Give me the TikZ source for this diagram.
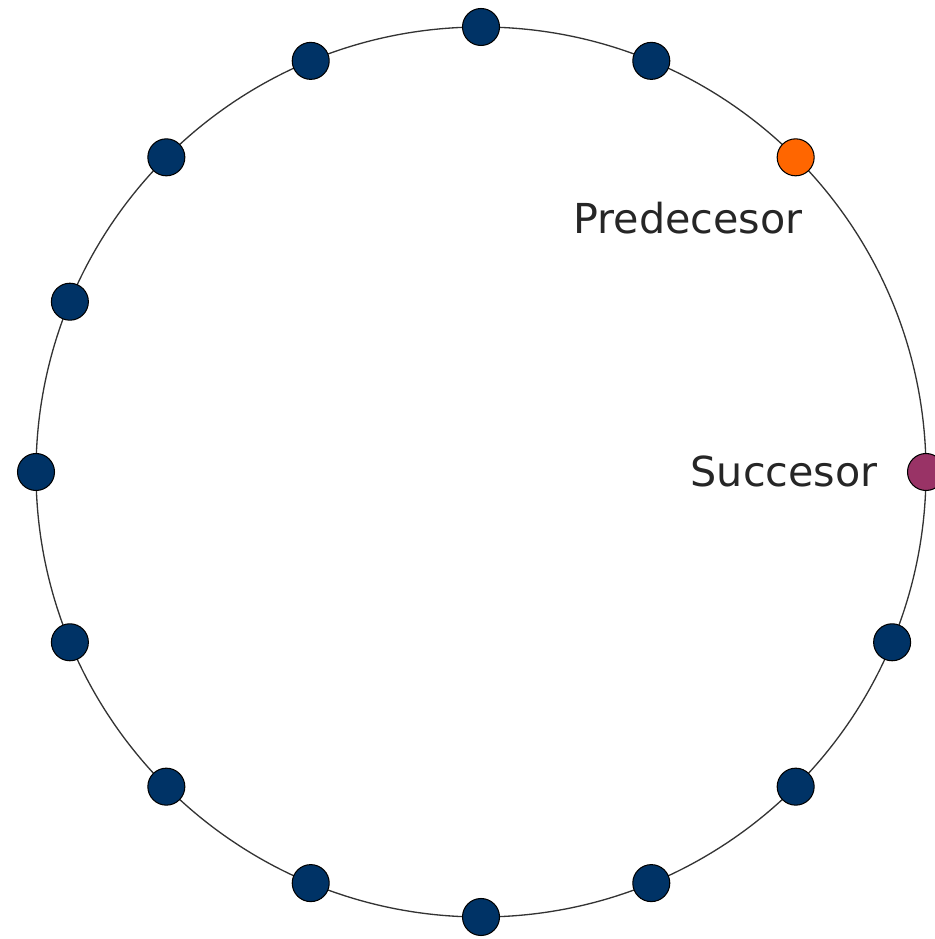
\documentclass[tikz,border=0pt]{standalone}
\usepackage{fontspec}
\setmainfont{DejaVu Sans}
\usetikzlibrary{calc,positioning}
\definecolor{peerblue}{HTML}{003366}
\definecolor{peerorange}{HTML}{FF6600}
\definecolor{peerplum}{HTML}{993366}

\begin{document}
\begin{tikzpicture}[x=0.02cm, y=0.02cm,
		peer/.style={circle, draw=black, line width=0.6pt, fill=peerblue, minimum size=0.74cm, inner sep=0pt},
		lbl/.style={font=\fontsize{23.5}{28}\selectfont, text=black!85, inner sep=0pt}]
	\useasboundingbox (0,0) rectangle (935,939);
	\coordinate (c) at (481,467);
	% the ring
	\draw[line width=0.75pt, black!80] (c) circle (445);
	% ordinary peers
	\foreach \a in {67.5,90,...,337.5}
		\node[peer] (n\a) at ($(c)+(\a:445)$) {};
	% the two neighbours
	\node[peer, fill=peerorange] (pred) at ($(c)+(45:445)$) {};
	\node[peer, fill=peerplum] (succ) at ($(c)+(0:445)$) {};
	\node[lbl] (predlbl) at (688,721) {Predecesor};
	\node[lbl, anchor=east] (succlbl) at (878,468) {Succesor};
\end{tikzpicture}
\end{document}
